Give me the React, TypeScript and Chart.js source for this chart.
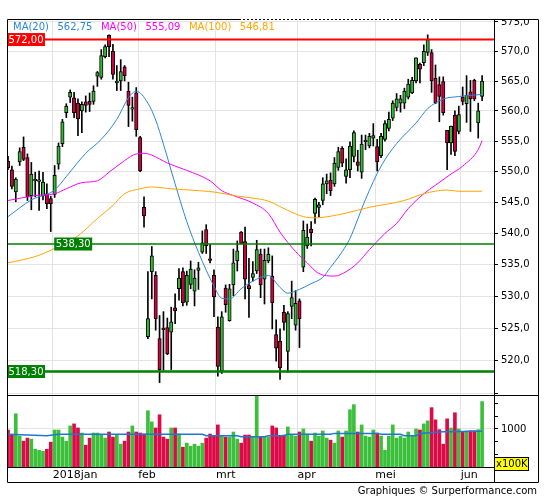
import React, { useEffect, useRef } from 'react';
import { Chart, registerables } from 'chart.js';

Chart.register(...registerables);

// Trading days shown per month: Dec 2017 (tail), Jan..Jun 2018
const monthLabels = ['2018jan', 'feb', 'mrt', 'apr', 'mei', 'jun'];
const monthDayCounts = [12, 22, 20, 21, 20, 22, 6];

const opens = [
  551.7, 550.3, 546.7, 551.6, 554.0, 552.3, 546.1, 548.5, 548.4, 546.1,
  546.4, 545.6, 546.3, 551.2, 554.6, 559.7, 562.3, 562.2, 561.3, 560.0,
  561.5, 561.6, 561.6, 565.8, 565.6, 569.1, 572.7, 570.0, 564.7, 565.0,
  567.4, 563.3, 560.3, 563.0, 555.6, 544.2, 523.7, 533.9, 533.3, 523.4,
  525.0, 525.1, 524.4, 528.2, 531.2, 533.9, 529.1, 531.9, 530.8, 534.1,
  537.0, 540.6, 535.9, 533.3, 525.2, 518.3, 531.3, 526.2, 531.8, 535.6,
  540.2, 538.7, 531.7, 533.0, 534.0, 536.7, 532.7, 535.6, 533.2, 524.0,
  523.0, 527.5, 521.4, 528.4, 525.5, 529.3, 534.6, 538.0, 540.7, 543.2,
  544.2, 545.3, 548.0, 548.6, 548.0, 550.7, 553.8, 549.2, 550.3, 552.5,
  551.6, 549.9, 554.9, 554.2, 555.5, 554.1, 552.6, 555.3, 557.1, 558.8,
  560.6, 561.3, 561.3, 562.3, 563.0, 565.0, 567.8, 568.1, 569.8, 569.8,
  565.5, 564.4, 564.9, 556.8, 554.7, 559.3, 556.6, 562.3, 561.2, 563.2,
  565.1, 558.0, 562.4,
];
const highs = [
  552.5, 550.9, 549.0, 553.9, 555.7, 552.9, 551.5, 549.9, 550.1, 549.9,
  548.0, 546.0, 551.0, 554.7, 558.6, 561.2, 563.5, 563.1, 562.0, 561.5,
  562.5, 563.0, 564.2, 566.6, 570.3, 571.1, 572.8, 571.2, 567.6, 568.6,
  567.6, 564.8, 562.3, 563.9, 555.8, 545.9, 533.9, 537.9, 533.9, 527.0,
  527.6, 526.6, 528.3, 530.4, 534.4, 534.5, 534.0, 535.6, 534.2, 535.4,
  540.4, 541.4, 538.2, 534.2, 526.8, 527.6, 531.8, 531.9, 537.5, 538.8,
  540.3, 541.0, 536.0, 535.5, 538.9, 537.5, 537.5, 537.7, 536.4, 526.3,
  524.9, 528.6, 527.6, 532.4, 530.9, 529.6, 542.0, 541.5, 541.9, 545.7,
  545.0, 549.0, 549.6, 549.8, 552.3, 554.0, 554.1, 552.1, 554.9, 556.7,
  553.5, 556.0, 556.0, 556.3, 557.9, 555.3, 556.3, 558.4, 559.8, 561.7,
  562.9, 562.6, 563.8, 565.3, 565.6, 568.9, 568.0, 571.1, 572.8, 570.3,
  567.7, 565.7, 565.7, 556.8, 557.5, 560.0, 560.8, 564.0, 565.9, 565.1,
  565.3, 561.3, 565.9,
];
const lows = [
  550.3, 547.2, 545.1, 551.0, 551.8, 545.3, 543.8, 545.9, 543.7, 545.4,
  544.0, 540.3, 545.8, 550.4, 554.1, 558.9, 561.4, 558.9, 555.9, 556.4,
  559.8, 559.9, 561.1, 564.1, 565.3, 568.9, 569.1, 565.3, 563.4, 563.4,
  565.0, 557.4, 558.3, 555.8, 550.0, 541.0, 523.4, 529.6, 524.7, 516.6,
  518.5, 520.9, 518.6, 525.7, 529.4, 528.5, 528.6, 531.2, 528.5, 531.1,
  536.8, 536.8, 535.3, 526.8, 517.6, 518.0, 527.5, 526.1, 530.1, 534.0,
  538.3, 529.6, 526.7, 532.4, 533.6, 529.8, 528.8, 535.3, 524.9, 519.9,
  517.1, 524.7, 518.2, 526.5, 524.7, 522.0, 533.9, 537.6, 538.0, 541.6,
  542.7, 544.6, 546.4, 546.1, 547.6, 550.2, 550.8, 548.1, 549.0, 551.6,
  550.1, 548.9, 553.6, 553.9, 554.2, 550.1, 552.3, 555.0, 556.7, 558.4,
  560.0, 559.8, 560.4, 562.0, 562.9, 564.7, 564.7, 567.6, 569.3, 563.1,
  561.2, 558.2, 559.3, 550.3, 552.8, 552.6, 556.2, 561.0, 558.1, 556.6,
  561.7, 555.5, 561.7,
];
const closes = [
  550.6, 547.6, 548.8, 553.3, 552.0, 545.9, 549.6, 548.7, 548.6, 548.3,
  544.8, 544.8, 549.4, 554.2, 558.2, 560.8, 563.1, 559.7, 558.7, 561.1,
  560.9, 561.1, 563.3, 566.4, 569.3, 570.8, 570.8, 566.1, 565.0, 566.6,
  565.9, 560.9, 560.5, 556.9, 550.1, 542.8, 526.5, 536.4, 526.5, 518.6,
  524.8, 521.0, 526.0, 527.7, 532.9, 529.0, 533.3, 534.3, 532.9, 534.5,
  538.5, 538.0, 535.7, 529.9, 519.1, 526.8, 528.7, 531.2, 535.3, 537.2,
  538.4, 532.7, 531.2, 533.6, 537.4, 531.8, 535.7, 536.7, 529.0, 521.9,
  518.9, 525.9, 527.3, 529.8, 528.9, 526.5, 540.5, 539.4, 540.1, 545.5,
  544.6, 548.0, 548.5, 546.9, 551.4, 553.3, 551.4, 550.3, 554.2, 556.4,
  551.0, 554.5, 555.1, 555.8, 555.9, 551.6, 555.8, 557.9, 558.6, 561.3,
  562.0, 562.0, 563.3, 564.5, 565.1, 568.9, 567.0, 570.0, 572.0, 565.0,
  561.3, 562.4, 559.7, 554.7, 557.5, 553.3, 559.4, 561.6, 562.6, 562.0,
  562.0, 560.0, 565.0,
];
// volume in units of 100K
const volumes = [
  980, 890, 1300, 860, 760, 820, 800, 600, 580, 560,
  600, 740, 980, 980, 840, 760, 1060, 1100, 1020, 920,
  680, 820, 920, 920, 880, 820, 940, 840, 880, 700,
  760, 940, 1060, 940, 920, 900, 1360, 1140, 1020, 1280,
  840, 800, 1020, 1020, 900, 640, 720, 660, 700, 660,
  720, 820, 900, 860, 1080, 860, 840, 840, 940, 800,
  720, 880, 880, 840, 1690, 840, 840, 840, 1060, 1020,
  860, 880, 1040, 880, 860, 940, 1000, 900, 760, 920,
  860, 960, 820, 780, 720, 960, 840, 960, 1380, 1480,
  940, 1080, 860, 840, 980, 920, 860, 580, 860, 1080,
  820, 860, 820, 940, 860, 1000, 980, 1100, 1160, 1420,
  1180, 986, 700, 1200, 1020, 1320, 1000, 933, 960, 966,
  966, 986, 1540,
];

// Moving averages read at sample days
const ma20Days = [0, 6, 12, 15, 20, 24, 28, 31, 33, 36, 38, 40, 43, 46, 49, 53, 55, 57, 60, 63, 67, 70, 72, 75, 78, 81, 83, 85, 88, 90, 92, 96, 100, 105, 108, 110, 112, 116, 119, 122];
const ma20Values = [542.7, 545.4, 547.0, 549.2, 553.0, 555.3, 558.6, 562.2, 563.3, 561.3, 558.5, 554.5, 548.0, 541.9, 537.0, 531.6, 529.7, 529.6, 531.2, 532.4, 533.3, 531.4, 530.5, 531.1, 532.0, 533.0, 534.6, 536.2, 539.2, 542.3, 545.5, 550.9, 554.6, 558.0, 560.4, 561.3, 562.0, 562.4, 562.6, 562.75];
const ma50Days = [0, 7, 12, 15, 19, 23, 26, 30, 33, 35, 37, 41, 46, 52, 55, 58, 63, 67, 70, 74, 77, 80, 84, 87, 90, 93, 97, 100, 103, 107, 110, 114, 117, 121, 122];
const ma50Values = [545.3, 546.1, 546.4, 547.2, 548.2, 548.5, 549.9, 551.8, 552.9, 553.0, 552.7, 551.4, 550.2, 548.5, 546.9, 546.1, 544.9, 543.2, 540.2, 537.1, 535.3, 533.6, 533.2, 533.9, 535.3, 537.4, 540.0, 541.6, 544.0, 546.4, 547.8, 549.6, 550.9, 553.6, 555.09];
const ma100Days = [0, 7, 12, 18, 23, 27, 30, 34, 37, 42, 49, 54, 58, 63, 67, 72, 76, 79, 85, 93, 102, 107, 113, 116, 122];
const ma100Values = [535.3, 536.3, 537.6, 539.6, 542.4, 544.5, 546.4, 547.2, 547.5, 547.2, 546.9, 546.6, 546.1, 545.7, 545.2, 543.7, 542.7, 542.5, 543.0, 544.2, 545.3, 546.4, 547.0, 546.8, 546.81];
const volMaDays = [0, 10, 13, 50, 51, 59, 60, 66, 67, 71, 72, 83, 84, 95, 96, 101, 102, 105, 106, 109, 112, 122];
const volMaValues = [894, 866, 894, 894, 866, 866, 846, 846, 866, 866, 894, 894, 913, 913, 894, 894, 866, 866, 913, 930, 946, 955];

const priceTicks = [515, 520, 525, 530, 535, 540, 545, 550, 555, 560, 565, 570, 575];
const volumeTicks = [500, 750, 1000, 1250, 1500];
const volumeLabelTick = 1000;

const levelValues = [572.0, 538.3, 518.3];
const levelLabels = ['572,00', '538,30', '518,30'];

const maNames = ['MA(20)', 'MA(50)', 'MA(100)'];
const maLastValues = ['562,75', '555,09', '546,81'];

// ---- styling (not data) ----
const FONT = '"DejaVu Sans", Verdana, sans-serif';
const GREEN = '#36b936';
const RED = '#d2003c';
const VGREEN = '#3cc03c';
const VRED = '#dc0a46';
const MA_COLORS = ['#2a86d9', '#ff00ff', '#ffa500'];
const LEVEL_COLORS = ['#ff0000', '#008000', '#008000'];
const LEVEL_WIDTHS = [2, 1.5, 2.5];
const GRID = '#e4e4e4';

const monthBounds: number[] = [];
{
  let acc = 0;
  for (let k = 0; k < monthDayCounts.length - 1; k++) {
    acc += monthDayCounts[k];
    monthBounds.push(acc - 0.5);
  }
}

const overlay = {
  id: 'overlay',
  afterDatasetsDraw(chart: any) {
    const { ctx, chartArea: a } = chart;
    const y = chart.scales.y;
    const x = chart.scales.x;
    ctx.save();
    levelValues.forEach((v, k) => {
      const py = y.getPixelForValue(v);
      ctx.strokeStyle = LEVEL_COLORS[k];
      ctx.lineWidth = LEVEL_WIDTHS[k];
      ctx.beginPath();
      ctx.moveTo(a.left, py);
      ctx.lineTo(a.right, py);
      ctx.stroke();
    });
    ctx.font = '10px ' + FONT;
    ctx.textBaseline = 'middle';
    ctx.textAlign = 'left';
    levelValues.forEach((v, k) => {
      const py = y.getPixelForValue(v);
      const px = k === 1 ? x.getPixelForValue(monthBounds[0]) + 1.5 : a.left;
      const text = levelLabels[k];
      const w = ctx.measureText(text).width + 3;
      ctx.fillStyle = LEVEL_COLORS[k];
      ctx.fillRect(px, py - 6.5, w, 13);
      ctx.fillStyle = '#ffffff';
      ctx.fillText(text, px + 1.5, py + 0.5);
    });
    ctx.restore();
  },
  afterDraw(chart: any) {
    const { ctx, chartArea: a } = chart;
    const y = chart.scales.y;
    const yv = chart.scales.yv;
    const x = chart.scales.x;
    const R = a.right + 44;
    const B = x.bottom;
    ctx.save();
    // hide axis label overflow above the frame
    ctx.fillStyle = '#ffffff';
    ctx.fillRect(a.right + 1, 0, R - a.right + 2, a.top);
    // legend of moving averages
    ctx.font = '10px ' + FONT;
    ctx.textBaseline = 'middle';
    ctx.textAlign = 'left';
    let lx = a.left + 6;
    const ly = a.top + 8;
    maNames.forEach((name, k) => {
      ctx.fillStyle = MA_COLORS[k];
      ctx.fillText(name, lx, ly);
      lx += ctx.measureText(name).width + 8.5;
      ctx.fillText(maLastValues[k], lx, ly);
      lx += ctx.measureText(maLastValues[k]).width + 8.5;
    });
    // frame
    ctx.strokeStyle = '#000';
    ctx.lineWidth = 1;
    const L = Math.round(a.left) + 0.5;
    const T = Math.round(a.top) + 0.5;
    const Rr = Math.round(R) + 0.5;
    const Bb = Math.round(B) + 0.5;
    ctx.beginPath();
    ctx.moveTo(L, T); ctx.lineTo(Rr, T);
    ctx.moveTo(L, T); ctx.lineTo(L, Bb);
    ctx.moveTo(Rr, T); ctx.lineTo(Rr, Bb);
    ctx.moveTo(L, Bb); ctx.lineTo(Rr, Bb);
    const sep = Math.round(y.bottom) + 0.5;
    ctx.moveTo(L, sep); ctx.lineTo(Rr, sep);
    const vr = Math.round(a.right) + 0.5;
    ctx.moveTo(vr, T); ctx.lineTo(vr, Bb);
    ctx.stroke();
    // dashed portion on top border
    ctx.strokeStyle = '#ffffff';
    ctx.setLineDash([2, 2]);
    ctx.beginPath();
    ctx.moveTo(a.left + 234, T);
    ctx.lineTo(a.left + 433, T);
    ctx.stroke();
    ctx.setLineDash([]);
    // x100K box
    const bx = Math.round(a.right) + 0.5;
    const by = Math.round(yv.bottom) - 9.5;
    ctx.fillStyle = '#ffff00';
    ctx.fillRect(bx, by, 34, 13);
    ctx.strokeStyle = '#000';
    ctx.strokeRect(bx, by, 34, 13);
    ctx.fillStyle = '#000';
    ctx.font = '10px ' + FONT;
    ctx.fillText('x100K', bx + 1.5, by + 7);
    // credits
    ctx.textAlign = 'right';
    ctx.fillStyle = '#000';
    ctx.fillText('Graphiques \u00A9 Surperformance.com', R - 1, B + 9);
    ctx.restore();
  },
};

export default function App() {
  const ref = useRef<HTMLCanvasElement>(null);

  useEffect(() => {
    const canvas = ref.current;
    if (!canvas) return;
    const isUp = closes.map((c, i) => c >= opens[i]);
    const bodyColors = isUp.map((u) => (u ? GREEN : RED));
    const volColors = isUp.map((u) => (u ? VGREEN : VRED));
    const maLine = (days: number[], vals: number[], color: string) => ({
      type: 'line' as const,
      data: days.map((d, k) => ({ x: d, y: vals[k] })),
      borderColor: color,
      borderWidth: 1,
      pointRadius: 0,
      cubicInterpolationMode: 'monotone' as const,
      yAxisID: 'y',
      order: 1,
    });

    const chart = new Chart(canvas, {
      type: 'bar',
      data: {
        datasets: [
          {
            type: 'bar',
            data: closes.map((_, i) => ({ x: i, y: [lows[i], highs[i]] })) as any,
            backgroundColor: '#000',
            barThickness: 1,
            grouped: false,
            yAxisID: 'y',
            order: 4,
          },
          {
            type: 'bar',
            data: closes.map((c, i) => ({ x: i, y: [opens[i], c] })) as any,
            backgroundColor: bodyColors,
            borderColor: '#000',
            borderWidth: 1,
            borderSkipped: false,
            barThickness: 3.4,
            minBarLength: 1.5,
            grouped: false,
            yAxisID: 'y',
            order: 3,
          },
          {
            type: 'bar',
            data: volumes.map((v, i) => ({ x: i, y: v })) as any,
            backgroundColor: volColors,
            barThickness: 3,
            grouped: false,
            yAxisID: 'yv',
            order: 3,
          },
          maLine(ma100Days, ma100Values, MA_COLORS[2]),
          maLine(ma50Days, ma50Values, MA_COLORS[1]),
          maLine(ma20Days, ma20Values, MA_COLORS[0]),
          {
            type: 'line',
            data: volMaDays.map((d, k) => ({ x: d, y: volMaValues[k] })),
            borderColor: '#1f78d0',
            borderWidth: 1.5,
            pointRadius: 0,
            yAxisID: 'yv',
            order: 1,
          },
        ] as any,
      },
      options: {
        animation: false,
        responsive: false,
        events: [],
        layout: { padding: { left: 7, top: 19, right: 7, bottom: 18 } },
        plugins: { legend: { display: false }, tooltip: { enabled: false } },
        scales: {
          x: {
            type: 'linear',
            min: -0.26,
            max: 125.06,
            offset: false,
            grid: { offset: false, color: GRID, drawTicks: false },
            border: { display: true, color: '#000' },
            ticks: {
              autoSkip: false,
              maxRotation: 0,
              align: 'start',
              padding: 2,
              color: '#000',
              font: { family: FONT, size: 11 },
              callback: (_v: any, idx: number) => monthLabels[idx],
            },
            afterBuildTicks: (s: any) => {
              s.ticks = monthBounds.map((v) => ({ value: v }));
            },
            afterFit: (s: any) => {
              s.height = 15;
            },
          },
          y: {
            type: 'logarithmic',
            position: 'right',
            stack: 'main',
            stackWeight: 376,
            min: 514.7,
            max: 575.5,
            grid: { color: GRID, tickLength: 4, tickColor: '#000' },
            border: { display: true, color: '#000' },
            ticks: {
              autoSkip: false,
              padding: 3,
              color: '#000',
              font: { family: FONT, size: 10 },
              callback: (v: any) => (v === priceTicks[0] ? '' : Number(v).toFixed(1).replace('.', ',')),
            },
            afterBuildTicks: (s: any) => {
              s.ticks = priceTicks.map((v) => ({ value: v }));
            },
            afterFit: (s: any) => {
              s.width = 44;
            },
          },
          yv: {
            type: 'linear',
            position: 'right',
            stack: 'main',
            stackWeight: 72,
            min: 250,
            max: 1670,
            grid: {
              color: (c: any) => (c.tick && c.tick.value === volumeLabelTick ? GRID : 'rgba(0,0,0,0)'),
              tickLength: 4,
              tickColor: '#000',
            },
            border: { display: true, color: '#000' },
            ticks: {
              autoSkip: false,
              padding: 3,
              color: '#000',
              font: { family: FONT, size: 10 },
              callback: (v: any) => (v === volumeLabelTick ? String(v) : ''),
            },
            afterBuildTicks: (s: any) => {
              s.ticks = volumeTicks.map((v) => ({ value: v }));
            },
            afterFit: (s: any) => {
              s.width = 44;
            },
          },
        },
      } as any,
      plugins: [overlay],
    });
    return () => chart.destroy();
  }, []);

  return (
    <div style={{ position: 'absolute', left: 0, top: 0, width: 545, height: 500, background: '#ffffff' }}>
      <canvas ref={ref} width={545} height={500} style={{ display: 'block', width: 545, height: 500 }} />
    </div>
  );
}
